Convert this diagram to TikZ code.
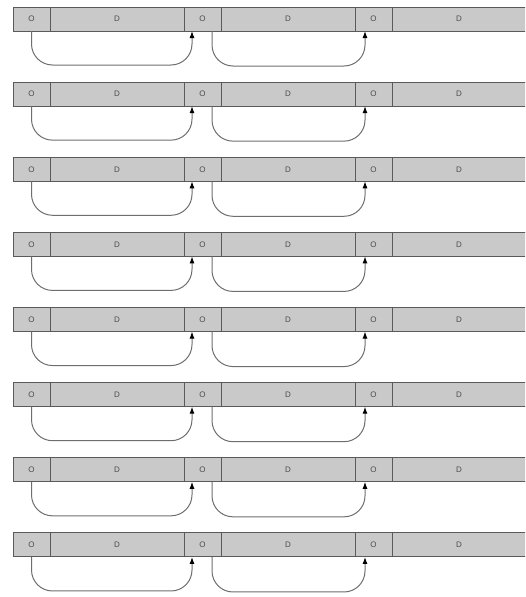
\documentclass[tikz,border=0pt]{standalone}
\usepackage{fontspec}
\setmainfont{Liberation Sans}
\usetikzlibrary{positioning, arrows.meta}
\definecolor{cellfill}{HTML}{C9C9C9}
\definecolor{cellline}{HTML}{5A5A5A}
\definecolor{linkgray}{HTML}{6E6E6E}
\begin{document}
\begin{tikzpicture}[>={Latex[length=7pt,width=5pt,black]}, x=1pt, y=-1pt,
    cell/.style={draw=cellline, fill=cellfill, line width=1pt, minimum height=24pt,
        inner sep=0pt, outer sep=0pt, font=\fontsize{8}{9}\selectfont, text=black!70},
    ocell/.style={cell, minimum width=37pt},
    dcell/.style={cell, minimum width=134pt},
    link/.style={->, draw=linkgray, line width=1pt, rounded corners=21pt}]
    \clip (0,0) rectangle (525,597);
    \foreach \r in {0,...,7} {
        % Một hàng: O D O D O D
        \node[ocell, anchor=north west] (o1-\r) at (13, 7+75.14*\r) {O};
        \node[dcell, right=0pt of o1-\r] (d1-\r) {D};
        \node[ocell, right=0pt of d1-\r] (o2-\r) {O};
        \node[dcell, right=0pt of o2-\r] (d2-\r) {D};
        \node[ocell, right=0pt of d2-\r] (o3-\r) {O};
        \node[dcell, right=0pt of o3-\r] (d3-\r) {D};
        % Các mũi tên nối O -> O
        \draw[link] (o1-\r.south) -- ++(0,34) -| ([xshift=8pt]o2-\r.south west);
        \draw[link] ([xshift=-9pt]o2-\r.south east) -- ++(0,35) -| ([xshift=10pt]o3-\r.south west);
    }
\end{tikzpicture}
\end{document}
